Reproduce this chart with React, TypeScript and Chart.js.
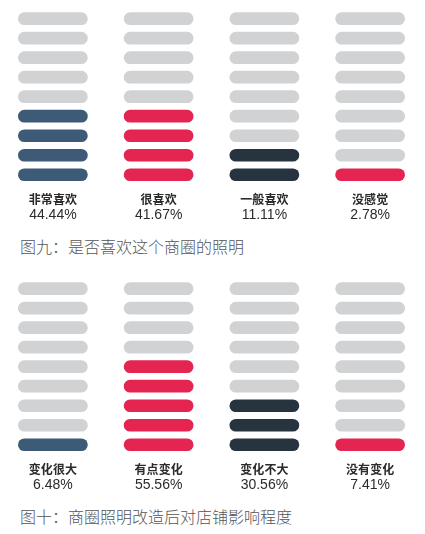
import React, { useEffect, useRef } from 'react';
import { Chart, registerables } from 'chart.js';

Chart.register(...registerables);

// nine pill rows per column, row 0 is the bottom one
const rows = [0, 1, 2, 3, 4, 5, 6, 7, 8];

const likeCategories = ['非常喜欢', '很喜欢', '一般喜欢', '没感觉'];
const likePercents = ['44.44%', '41.67%', '11.11%', '2.78%'];
const likeFilled = [4, 4, 2, 1];

const changeCategories = ['变化很大', '有点变化', '变化不大', '没有变化'];
const changePercents = ['6.48%', '55.56%', '30.56%', '7.41%'];
const changeFilled = [1, 5, 3, 1];

const columnColors = ['#3d5b76', '#e42552', '#27343f', '#e42552'];
const emptyColor = '#d1d2d4';

interface PillPanelProps {
  categories: string[];
  percents: string[];
  filled: number[];
  caption: string;
  top: number;
}

const PillPanel: React.FC<PillPanelProps> = ({ categories, percents, filled, caption, top }) => {
  const canvasRef = useRef<HTMLCanvasElement>(null);

  useEffect(() => {
    const ctx = canvasRef.current?.getContext('2d');
    if (!ctx) return;

    const chart = new Chart(ctx, {
      type: 'bar',
      data: {
        labels: categories,
        datasets: rows.map(r => ({
          data: categories.map(() => [r, r + 0.65]),
          backgroundColor: categories.map((_, i) => (r < filled[i] ? columnColors[i] : emptyColor)),
          borderRadius: 20,
          borderSkipped: false,
          grouped: false,
          categoryPercentage: 1,
          barPercentage: 0.66
        }))
      },
      options: {
        animation: false,
        responsive: true,
        maintainAspectRatio: false,
        layout: { padding: { top: 5.5, left: 0, right: 2, bottom: 4.8 } },
        plugins: {
          legend: { display: false },
          tooltip: { enabled: false }
        },
        scales: {
          x: {
            weight: 1,
            grid: { display: false, drawTicks: false },
            border: { display: false },
            ticks: {
              padding: 0,
              maxRotation: 0,
              color: '#2b2b2b',
              font: { family: '"Noto Sans CJK SC", sans-serif', size: 12, weight: 'bold', lineHeight: 1.2 }
            }
          },
          // second row of labels under the names: the percentages
          x2: {
            type: 'category',
            labels: percents,
            position: 'bottom',
            offset: true,
            weight: 2,
            grid: { display: false, drawTicks: false },
            border: { display: false },
            ticks: {
              padding: 0,
              maxRotation: 0,
              color: '#2b2b2b',
              font: { family: '"Liberation Sans", Arial, sans-serif', size: 14, lineHeight: 1.2 }
            }
          },
          y: { display: false, min: -0.56, max: 9 }
        }
      }
    });

    return () => {
      chart.destroy();
    };
  }, [categories, percents, filled]);

  return (
    <div style={{ position: 'absolute', left: 0, top, width: 425, height: 265 }}>
      <div style={{ position: 'relative', width: 425, height: 228 }}>
        <canvas ref={canvasRef} />
      </div>
      <div
        style={{
          position: 'absolute',
          left: 20,
          top: 236,
          fontFamily: '"Noto Sans CJK SC", serif',
          fontWeight: 300,
          fontSize: 16,
          lineHeight: '20px',
          color: '#555'
        }}
      >
        {caption}
      </div>
    </div>
  );
};

export default function App() {
  return (
    <div style={{ position: 'absolute', left: 0, top: 0, width: 425, height: 534, background: '#fff' }}>
      <PillPanel
        categories={likeCategories}
        percents={likePercents}
        filled={likeFilled}
        caption="图九：是否喜欢这个商圈的照明"
        top={0}
      />
      <PillPanel
        categories={changeCategories}
        percents={changePercents}
        filled={changeFilled}
        caption="图十：商圈照明改造后对店铺影响程度"
        top={269.5}
      />
    </div>
  );
}
